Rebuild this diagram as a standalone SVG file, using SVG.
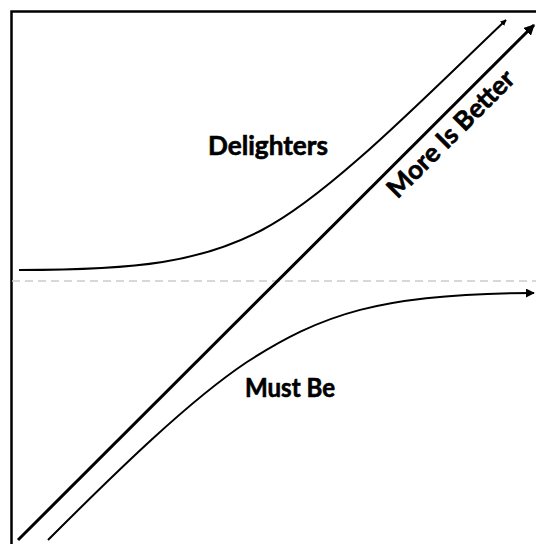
<svg xmlns="http://www.w3.org/2000/svg" width="536" height="544" viewBox="0 0 536 544">
<style>
.lbl{font-family:Lato,"Open Sans","Liberation Sans",sans-serif;font-weight:bold;font-size:26px;fill:#000;stroke:#000;stroke-width:0.6}
.curve{fill:none;stroke:#000;stroke-width:2}
</style>
<defs>
<marker id="ah" viewBox="0 0 10 10" refX="9" refY="5" markerWidth="6" markerHeight="6" markerUnits="userSpaceOnUse" orient="auto"><path d="M0,0 L10,5 L0,10 Z" fill="#000"/></marker>
<marker id="ahBig" viewBox="0 0 10 10" refX="9" refY="5" markerWidth="11" markerHeight="11" markerUnits="userSpaceOnUse" orient="auto"><path d="M0,0 L10,5 L0,10 Z" fill="#000"/></marker>
<marker id="ahMid" viewBox="0 0 10 10" refX="9" refY="5" markerWidth="9" markerHeight="9" markerUnits="userSpaceOnUse" orient="auto"><path d="M0,0 L10,5 L0,10 Z" fill="#000"/></marker>
</defs>
<rect width="536" height="544" fill="#fff"/>
<g id="frame">
<path d="M11.5,544 L11.5,11.5 L536,11.5" fill="none" stroke="#000" stroke-width="2.5"/>
<line x1="12" y1="281" x2="536" y2="281" stroke="#ccc" stroke-width="1.5" stroke-dasharray="8,5"/>
</g>
<g id="connectors">
<path id="more-is-better-line" d="M18,540 L534,25" fill="none" stroke="#000" stroke-width="3" marker-end="url(#ahBig)"/>
<path id="delighters-curve" class="curve" d="M19,270 C140,270 200,262 262,230 C330,195 430,92 506,20" marker-end="url(#ah)"/>
<path id="must-be-curve" class="curve" d="M48,540 C120,468 190,400 247,362 C320,315 380,293 534,293" marker-end="url(#ahMid)"/>
</g>
<g id="delighters"><text class="lbl" x="268" y="155" text-anchor="middle" textLength="120" lengthAdjust="spacingAndGlyphs">Delighters</text></g>
<g id="must-be"><text class="lbl" x="290" y="397" text-anchor="middle" textLength="90" lengthAdjust="spacingAndGlyphs">Must Be</text></g>
<g id="more-is-better"><text class="lbl" x="457" y="140" text-anchor="middle" textLength="168" lengthAdjust="spacingAndGlyphs" transform="rotate(-45 457 140)">More Is Better</text></g>
</svg>
